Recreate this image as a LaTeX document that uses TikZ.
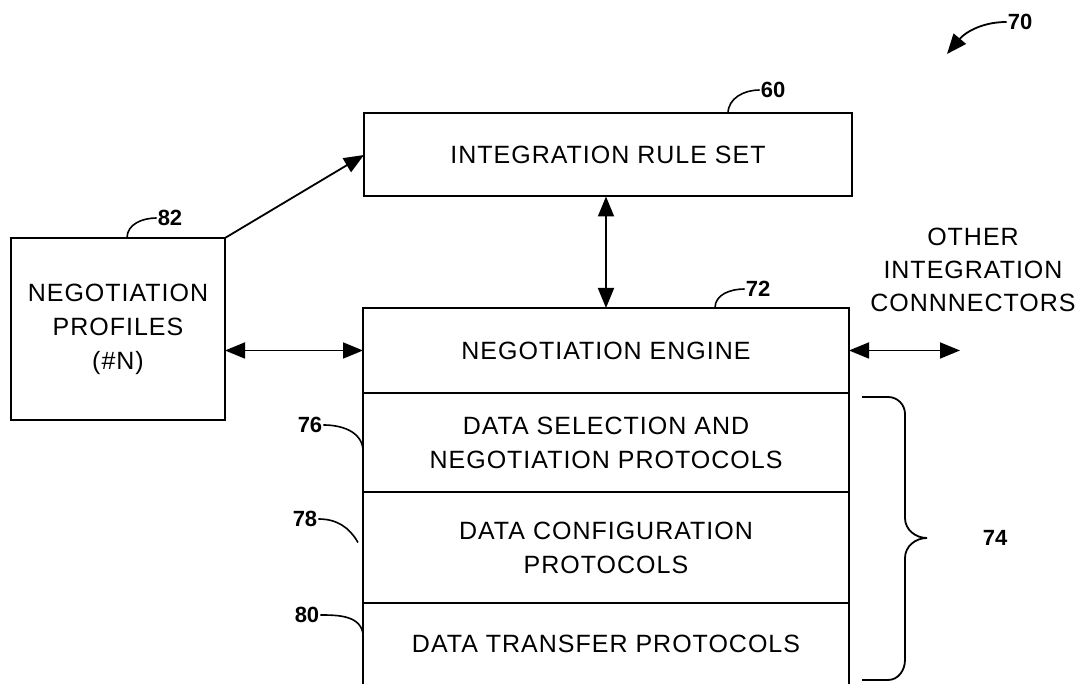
\documentclass[tikz,border=0pt]{standalone}
\usepackage{fontspec}
\setmainfont{Liberation Sans}
\newfontfamily\boxfont{Liberation Sans}[LetterSpace=4]
\usetikzlibrary{positioning,arrows.meta}

\begin{document}
\begin{tikzpicture}
    [x=1pt,y=1pt,
     box/.style={draw=black,line width=2pt,outer sep=0pt,inner sep=0pt,
       font=\fontsize{25}{34}\boxfont,align=center,minimum width=486pt},
     pre/.style={<->,>={Triangle[length=20pt,width=16pt]},line width=1.8pt},
     post/.style={->,>={Triangle[length=20pt,width=16pt]},line width=1.8pt},
     lead/.style={line width=1.6pt},
     num/.style={font=\fontsize{22}{26}\selectfont\bfseries,inner sep=1pt}]
    \useasboundingbox (0,0) rectangle (1088,684);
    % boxes
    \node [box,minimum width=488pt,minimum height=83pt] (rules) at (608,529) {INTEGRATION RULE SET};
    \node [box,minimum width=214pt,minimum height=182pt] (profiles) at (118,355) {NEGOTIATION\\PROFILES\\(\#N)};
    \node [box,minimum height=85pt] (engine) at (606,333.5) {NEGOTIATION ENGINE};
    \node [box,minimum height=99pt,below=0pt of engine] (select) {DATA SELECTION AND\\NEGOTIATION PROTOCOLS};
    \node [box,minimum height=111pt,below=0pt of select] (config) {DATA CONFIGURATION\\PROTOCOLS};
    \node [box,draw=none,minimum height=81pt,below=0pt of config] (transfer) {DATA TRANSFER PROTOCOLS};
    \draw [line width=2pt] (transfer.north west) -- (transfer.south west)
      (transfer.north east) -- (transfer.south east);
    \draw [dashed,gray!50] (transfer.south west) -- (transfer.south east);
    \node [font=\fontsize{25}{33}\boxfont,align=center] (other) at (973,414) {OTHER\\INTEGRATION\\CONNNECTORS};
    \coordinate (otherend) at (960,333.5);
    % connectors
    \draw [post] (profiles.north east) -- (rules.west);
    \draw [pre] (rules.south -| engine.north) -- (engine.north);
    \draw [pre] (profiles.east |- engine.west) -- (engine.west);
    \draw [pre] (engine.east) -- (otherend);
    % reference numerals
    \node [num] (n70) at (1020,662) {70};
    \coordinate (sys) at (947,630);
    \draw [post] (n70.west) to[out=180,in=50] (sys);
    \node [num] (n60) at (773,594) {60};
    \draw [lead] ([xshift=120pt]rules.north) to[out=90,in=180] (n60.west);
    \node [num] (n82) at (170,466) {82};
    \draw [lead] ([xshift=9pt]profiles.north) to[out=90,in=180] (n82.west);
    \node [num] (n72) at (758,395) {72};
    \draw [lead] ([xshift=109pt]engine.north) to[out=90,in=180] (n72.west);
    \node [num] (n76) at (310,259) {76};
    \draw [lead] (n76.east) to[out=0,in=95] ([yshift=-7pt]select.west);
    \node [num] (n78) at (305,165) {78};
    \draw [lead] (n78.east) to[out=0,in=120] ([xshift=-5pt,yshift=5pt]config.west);
    \node [num] (n80) at (307,69) {80};
    \draw [lead] (n80.east) to[out=0,in=100] ([yshift=10pt]transfer.west);
    % brace
    \draw [line width=1.8pt] (862,287) -- (888,287) to[out=0,in=90] (905,270) -- (905,166)
      to[out=-90,in=180] (927,146) to[out=180,in=90] (905,126) -- (905,24)
      to[out=-90,in=0] (888,4) -- (862,4);
    \node [num] (n74) at (995,146) {74};
\end{tikzpicture}
\end{document}
